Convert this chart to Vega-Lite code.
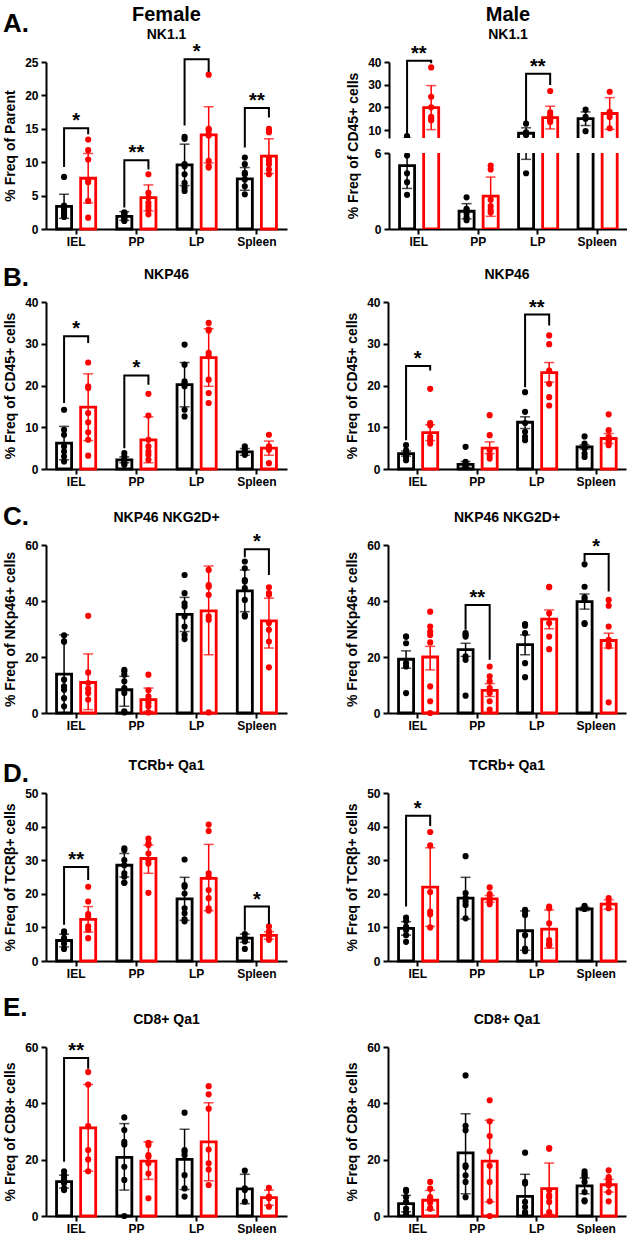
{
"$schema": "https://vega.github.io/schema/vega-lite/v6.json",
"background": "white",
"padding": {"left": 3, "top": 5, "right": 0, "bottom": 0},
"spacing": 11,
"datasets": {
"bars": [
{"panel":"AF","tissue":"IEL","group":"Control","value":3.4,"lo":1.6,"hi":5.2},
{"panel":"AF","tissue":"IEL","group":"Treated","value":7.6,"lo":3.9,"hi":11.3},
{"panel":"AF","tissue":"PP","group":"Control","value":1.9,"lo":1.3,"hi":2.6},
{"panel":"AF","tissue":"PP","group":"Treated","value":4.7,"lo":2.7,"hi":6.6},
{"panel":"AF","tissue":"LP","group":"Control","value":9.6,"lo":6.5,"hi":12.7},
{"panel":"AF","tissue":"LP","group":"Treated","value":14.1,"lo":9.9,"hi":18.3},
{"panel":"AF","tissue":"Spleen","group":"Control","value":7.5,"lo":5.8,"hi":9.2},
{"panel":"AF","tissue":"Spleen","group":"Treated","value":10.9,"lo":8.3,"hi":13.5},
{"panel":"AM","tissue":"IEL","group":"Control","value":5.0,"lo":3.2,"hi":6.3},
{"panel":"AM","tissue":"IEL","group":"Treated","value":19.9,"lo":10.2,"hi":29.6},
{"panel":"AM","tissue":"PP","group":"Control","value":1.4,"lo":0.8,"hi":2.0},
{"panel":"AM","tissue":"PP","group":"Treated","value":2.6,"lo":1.0,"hi":4.1},
{"panel":"AM","tissue":"LP","group":"Control","value":8.6,"lo":5.5,"hi":11.0},
{"panel":"AM","tissue":"LP","group":"Treated","value":15.5,"lo":10.5,"hi":20.5},
{"panel":"AM","tissue":"Spleen","group":"Control","value":15.0,"lo":12.0,"hi":18.0},
{"panel":"AM","tissue":"Spleen","group":"Treated","value":17.3,"lo":10.3,"hi":24.3},
{"panel":"BF","tissue":"IEL","group":"Control","value":6.2,"lo":2.2,"hi":10.2},
{"panel":"BF","tissue":"IEL","group":"Treated","value":14.8,"lo":6.8,"hi":22.8},
{"panel":"BF","tissue":"PP","group":"Control","value":2.2,"lo":1.5,"hi":2.9},
{"panel":"BF","tissue":"PP","group":"Treated","value":7.0,"lo":1.5,"hi":12.5},
{"panel":"BF","tissue":"LP","group":"Control","value":20.2,"lo":14.9,"hi":25.5},
{"panel":"BF","tissue":"LP","group":"Treated","value":26.7,"lo":19.8,"hi":33.6},
{"panel":"BF","tissue":"Spleen","group":"Control","value":4.1,"lo":3.3,"hi":4.9},
{"panel":"BF","tissue":"Spleen","group":"Treated","value":5.0,"lo":3.3,"hi":6.7},
{"panel":"BM","tissue":"IEL","group":"Control","value":3.7,"lo":3.1,"hi":4.3},
{"panel":"BM","tissue":"IEL","group":"Treated","value":8.7,"lo":6.8,"hi":10.6},
{"panel":"BM","tissue":"PP","group":"Control","value":1.1,"lo":0.4,"hi":1.8},
{"panel":"BM","tissue":"PP","group":"Treated","value":5.0,"lo":3.7,"hi":6.5},
{"panel":"BM","tissue":"LP","group":"Control","value":11.2,"lo":9.7,"hi":12.5},
{"panel":"BM","tissue":"LP","group":"Treated","value":23.1,"lo":20.8,"hi":25.5},
{"panel":"BM","tissue":"Spleen","group":"Control","value":5.3,"lo":4.8,"hi":5.8},
{"panel":"BM","tissue":"Spleen","group":"Treated","value":7.3,"lo":6.1,"hi":8.5},
{"panel":"CF","tissue":"IEL","group":"Control","value":13.9,"lo":0,"hi":27.9},
{"panel":"CF","tissue":"IEL","group":"Treated","value":10.9,"lo":1.2,"hi":21.1},
{"panel":"CF","tissue":"PP","group":"Control","value":8.3,"lo":2.4,"hi":13.1},
{"panel":"CF","tissue":"PP","group":"Treated","value":4.8,"lo":0.6,"hi":8.9},
{"panel":"CF","tissue":"LP","group":"Control","value":35.2,"lo":29.1,"hi":41.3},
{"panel":"CF","tissue":"LP","group":"Treated","value":36.5,"lo":20.8,"hi":52.5},
{"panel":"CF","tissue":"Spleen","group":"Control","value":43.6,"lo":36.2,"hi":51.1},
{"panel":"CF","tissue":"Spleen","group":"Treated","value":32.9,"lo":23.2,"hi":41.0},
{"panel":"CM","tissue":"IEL","group":"Control","value":19.2,"lo":16.0,"hi":22.2},
{"panel":"CM","tissue":"IEL","group":"Treated","value":20.0,"lo":15.4,"hi":23.8},
{"panel":"CM","tissue":"PP","group":"Control","value":22.6,"lo":20.2,"hi":24.9},
{"panel":"CM","tissue":"PP","group":"Treated","value":8.1,"lo":5.9,"hi":10.5},
{"panel":"CM","tissue":"LP","group":"Control","value":24.4,"lo":20.8,"hi":27.9},
{"panel":"CM","tissue":"LP","group":"Treated","value":33.5,"lo":30.1,"hi":36.8},
{"panel":"CM","tissue":"Spleen","group":"Control","value":39.8,"lo":37.1,"hi":42.5},
{"panel":"CM","tissue":"Spleen","group":"Treated","value":25.9,"lo":23.2,"hi":28.5},
{"panel":"DF","tissue":"IEL","group":"Control","value":6.1,"lo":4.2,"hi":8.0},
{"panel":"DF","tissue":"IEL","group":"Treated","value":12.4,"lo":8.6,"hi":16.2},
{"panel":"DF","tissue":"PP","group":"Control","value":28.5,"lo":25.0,"hi":32.0},
{"panel":"DF","tissue":"PP","group":"Treated","value":30.5,"lo":26.1,"hi":34.5},
{"panel":"DF","tissue":"LP","group":"Control","value":18.5,"lo":12.1,"hi":24.9},
{"panel":"DF","tissue":"LP","group":"Treated","value":24.6,"lo":15.0,"hi":34.7},
{"panel":"DF","tissue":"Spleen","group":"Control","value":6.8,"lo":5.6,"hi":8.0},
{"panel":"DF","tissue":"Spleen","group":"Treated","value":7.6,"lo":6.5,"hi":8.7},
{"panel":"DM","tissue":"IEL","group":"Control","value":9.7,"lo":7.7,"hi":11.7},
{"panel":"DM","tissue":"IEL","group":"Treated","value":22.0,"lo":10.3,"hi":33.7},
{"panel":"DM","tissue":"PP","group":"Control","value":18.7,"lo":12.5,"hi":24.9},
{"panel":"DM","tissue":"PP","group":"Treated","value":18.5,"lo":17.5,"hi":19.5},
{"panel":"DM","tissue":"LP","group":"Control","value":9.0,"lo":3.2,"hi":14.9},
{"panel":"DM","tissue":"LP","group":"Treated","value":9.5,"lo":3.8,"hi":15.2},
{"panel":"DM","tissue":"Spleen","group":"Control","value":15.5,"lo":15.0,"hi":16.0},
{"panel":"DM","tissue":"Spleen","group":"Treated","value":16.9,"lo":15.4,"hi":18.2},
{"panel":"EF","tissue":"IEL","group":"Control","value":12.2,"lo":9.9,"hi":14.5},
{"panel":"EF","tissue":"IEL","group":"Treated","value":31.3,"lo":15.9,"hi":46.7},
{"panel":"EF","tissue":"PP","group":"Control","value":20.8,"lo":9.2,"hi":32.8},
{"panel":"EF","tissue":"PP","group":"Treated","value":19.5,"lo":13.0,"hi":26.3},
{"panel":"EF","tissue":"LP","group":"Control","value":20.1,"lo":9.4,"hi":30.8},
{"panel":"EF","tissue":"LP","group":"Treated","value":26.3,"lo":12.5,"hi":40.2},
{"panel":"EF","tissue":"Spleen","group":"Control","value":9.6,"lo":4.4,"hi":14.8},
{"panel":"EF","tissue":"Spleen","group":"Treated","value":6.5,"lo":3.8,"hi":9.2},
{"panel":"EM","tissue":"IEL","group":"Control","value":4.4,"lo":1.5,"hi":7.3},
{"panel":"EM","tissue":"IEL","group":"Treated","value":5.6,"lo":2.1,"hi":9.1},
{"panel":"EM","tissue":"PP","group":"Control","value":22.4,"lo":7.9,"hi":36.3},
{"panel":"EM","tissue":"PP","group":"Treated","value":19.5,"lo":5.0,"hi":34.0},
{"panel":"EM","tissue":"LP","group":"Control","value":7.0,"lo":0,"hi":14.8},
{"panel":"EM","tissue":"LP","group":"Treated","value":9.7,"lo":0.6,"hi":18.8},
{"panel":"EM","tissue":"Spleen","group":"Control","value":10.7,"lo":7.9,"hi":13.5},
{"panel":"EM","tissue":"Spleen","group":"Treated","value":11.1,"lo":8.5,"hi":13.0}
],
"points": [
{"panel":"AF","tissue":"IEL","group":"Control","value":7.8},{"panel":"AF","tissue":"IEL","group":"Control","value":3.5},{"panel":"AF","tissue":"IEL","group":"Control","value":3.3},{"panel":"AF","tissue":"IEL","group":"Control","value":3.0},{"panel":"AF","tissue":"IEL","group":"Control","value":2.8},{"panel":"AF","tissue":"IEL","group":"Control","value":2.5},{"panel":"AF","tissue":"IEL","group":"Control","value":2.2},{"panel":"AF","tissue":"IEL","group":"Control","value":1.8},
{"panel":"AF","tissue":"IEL","group":"Treated","value":13.4},{"panel":"AF","tissue":"IEL","group":"Treated","value":11.8},{"panel":"AF","tissue":"IEL","group":"Treated","value":10.4},{"panel":"AF","tissue":"IEL","group":"Treated","value":7.3},{"panel":"AF","tissue":"IEL","group":"Treated","value":7.0},{"panel":"AF","tissue":"IEL","group":"Treated","value":4.2},{"panel":"AF","tissue":"IEL","group":"Treated","value":1.7},
{"panel":"AF","tissue":"PP","group":"Control","value":2.5},{"panel":"AF","tissue":"PP","group":"Control","value":2.4},{"panel":"AF","tissue":"PP","group":"Control","value":2.3},{"panel":"AF","tissue":"PP","group":"Control","value":2.0},{"panel":"AF","tissue":"PP","group":"Control","value":1.8},{"panel":"AF","tissue":"PP","group":"Control","value":1.6},{"panel":"AF","tissue":"PP","group":"Control","value":1.4},{"panel":"AF","tissue":"PP","group":"Control","value":1.2},
{"panel":"AF","tissue":"PP","group":"Treated","value":8.2},{"panel":"AF","tissue":"PP","group":"Treated","value":5.4},{"panel":"AF","tissue":"PP","group":"Treated","value":4.7},{"panel":"AF","tissue":"PP","group":"Treated","value":3.9},{"panel":"AF","tissue":"PP","group":"Treated","value":3.4},{"panel":"AF","tissue":"PP","group":"Treated","value":2.9},{"panel":"AF","tissue":"PP","group":"Treated","value":2.2},
{"panel":"AF","tissue":"LP","group":"Control","value":13.8},{"panel":"AF","tissue":"LP","group":"Control","value":13.5},{"panel":"AF","tissue":"LP","group":"Control","value":9.7},{"panel":"AF","tissue":"LP","group":"Control","value":9.4},{"panel":"AF","tissue":"LP","group":"Control","value":8.2},{"panel":"AF","tissue":"LP","group":"Control","value":6.9},{"panel":"AF","tissue":"LP","group":"Control","value":6.2},{"panel":"AF","tissue":"LP","group":"Control","value":5.7},
{"panel":"AF","tissue":"LP","group":"Treated","value":23.1},{"panel":"AF","tissue":"LP","group":"Treated","value":15.0},{"panel":"AF","tissue":"LP","group":"Treated","value":14.8},{"panel":"AF","tissue":"LP","group":"Treated","value":14.2},{"panel":"AF","tissue":"LP","group":"Treated","value":14.0},{"panel":"AF","tissue":"LP","group":"Treated","value":10.2},{"panel":"AF","tissue":"LP","group":"Treated","value":9.4},{"panel":"AF","tissue":"LP","group":"Treated","value":9.2},
{"panel":"AF","tissue":"Spleen","group":"Control","value":10.7},{"panel":"AF","tissue":"Spleen","group":"Control","value":9.7},{"panel":"AF","tissue":"Spleen","group":"Control","value":8.4},{"panel":"AF","tissue":"Spleen","group":"Control","value":8.2},{"panel":"AF","tissue":"Spleen","group":"Control","value":7.4},{"panel":"AF","tissue":"Spleen","group":"Control","value":6.4},{"panel":"AF","tissue":"Spleen","group":"Control","value":5.2},
{"panel":"AF","tissue":"Spleen","group":"Treated","value":15.0},{"panel":"AF","tissue":"Spleen","group":"Treated","value":14.7},{"panel":"AF","tissue":"Spleen","group":"Treated","value":14.5},{"panel":"AF","tissue":"Spleen","group":"Treated","value":10.7},{"panel":"AF","tissue":"Spleen","group":"Treated","value":10.2},{"panel":"AF","tissue":"Spleen","group":"Treated","value":9.7},{"panel":"AF","tissue":"Spleen","group":"Treated","value":8.9},{"panel":"AF","tissue":"Spleen","group":"Treated","value":8.2},
{"panel":"AM","tissue":"IEL","group":"Control","value":7.2},{"panel":"AM","tissue":"IEL","group":"Control","value":7.2},{"panel":"AM","tissue":"IEL","group":"Control","value":5.8},{"panel":"AM","tissue":"IEL","group":"Control","value":4.4},{"panel":"AM","tissue":"IEL","group":"Control","value":3.7},{"panel":"AM","tissue":"IEL","group":"Control","value":2.7},
{"panel":"AM","tissue":"IEL","group":"Treated","value":37.6},{"panel":"AM","tissue":"IEL","group":"Treated","value":24.7},{"panel":"AM","tissue":"IEL","group":"Treated","value":20.0},{"panel":"AM","tissue":"IEL","group":"Treated","value":15.8},{"panel":"AM","tissue":"IEL","group":"Treated","value":15.0},{"panel":"AM","tissue":"IEL","group":"Treated","value":14.3},
{"panel":"AM","tissue":"PP","group":"Control","value":2.5},{"panel":"AM","tissue":"PP","group":"Control","value":1.6},{"panel":"AM","tissue":"PP","group":"Control","value":1.5},{"panel":"AM","tissue":"PP","group":"Control","value":1.2},{"panel":"AM","tissue":"PP","group":"Control","value":0.9},{"panel":"AM","tissue":"PP","group":"Control","value":0.7},
{"panel":"AM","tissue":"PP","group":"Treated","value":5.0},{"panel":"AM","tissue":"PP","group":"Treated","value":4.7},{"panel":"AM","tissue":"PP","group":"Treated","value":2.3},{"panel":"AM","tissue":"PP","group":"Treated","value":1.8},{"panel":"AM","tissue":"PP","group":"Treated","value":1.5},{"panel":"AM","tissue":"PP","group":"Treated","value":1.3},
{"panel":"AM","tissue":"LP","group":"Control","value":12.8},{"panel":"AM","tissue":"LP","group":"Control","value":9.0},{"panel":"AM","tissue":"LP","group":"Control","value":8.6},{"panel":"AM","tissue":"LP","group":"Control","value":8.2},{"panel":"AM","tissue":"LP","group":"Control","value":7.8},{"panel":"AM","tissue":"LP","group":"Control","value":4.4},
{"panel":"AM","tissue":"LP","group":"Treated","value":27.2},{"panel":"AM","tissue":"LP","group":"Treated","value":17.8},{"panel":"AM","tissue":"LP","group":"Treated","value":16.5},{"panel":"AM","tissue":"LP","group":"Treated","value":15.8},{"panel":"AM","tissue":"LP","group":"Treated","value":15.0},{"panel":"AM","tissue":"LP","group":"Treated","value":14.3},{"panel":"AM","tissue":"LP","group":"Treated","value":13.6},
{"panel":"AM","tissue":"Spleen","group":"Control","value":19.0},{"panel":"AM","tissue":"Spleen","group":"Control","value":15.8},{"panel":"AM","tissue":"Spleen","group":"Control","value":15.0},{"panel":"AM","tissue":"Spleen","group":"Control","value":9.5},
{"panel":"AM","tissue":"Spleen","group":"Treated","value":26.9},{"panel":"AM","tissue":"Spleen","group":"Treated","value":18.0},{"panel":"AM","tissue":"Spleen","group":"Treated","value":15.8},{"panel":"AM","tissue":"Spleen","group":"Treated","value":10.8},
{"panel":"BF","tissue":"IEL","group":"Control","value":14.2},{"panel":"BF","tissue":"IEL","group":"Control","value":9.4},{"panel":"BF","tissue":"IEL","group":"Control","value":8.2},{"panel":"BF","tissue":"IEL","group":"Control","value":5.4},{"panel":"BF","tissue":"IEL","group":"Control","value":4.2},{"panel":"BF","tissue":"IEL","group":"Control","value":3.0},{"panel":"BF","tissue":"IEL","group":"Control","value":1.8},
{"panel":"BF","tissue":"IEL","group":"Treated","value":25.5},{"panel":"BF","tissue":"IEL","group":"Treated","value":19.8},{"panel":"BF","tissue":"IEL","group":"Treated","value":19.4},{"panel":"BF","tissue":"IEL","group":"Treated","value":13.4},{"panel":"BF","tissue":"IEL","group":"Treated","value":11.2},{"panel":"BF","tissue":"IEL","group":"Treated","value":8.8},{"panel":"BF","tissue":"IEL","group":"Treated","value":7.0},{"panel":"BF","tissue":"IEL","group":"Treated","value":3.2},
{"panel":"BF","tissue":"PP","group":"Control","value":3.8},{"panel":"BF","tissue":"PP","group":"Control","value":3.0},{"panel":"BF","tissue":"PP","group":"Control","value":2.2},{"panel":"BF","tissue":"PP","group":"Control","value":1.6},{"panel":"BF","tissue":"PP","group":"Control","value":1.3},{"panel":"BF","tissue":"PP","group":"Control","value":1.0},
{"panel":"BF","tissue":"PP","group":"Treated","value":18.0},{"panel":"BF","tissue":"PP","group":"Treated","value":12.8},{"panel":"BF","tissue":"PP","group":"Treated","value":7.0},{"panel":"BF","tissue":"PP","group":"Treated","value":5.4},{"panel":"BF","tissue":"PP","group":"Treated","value":4.2},{"panel":"BF","tissue":"PP","group":"Treated","value":3.4},{"panel":"BF","tissue":"PP","group":"Treated","value":2.2},
{"panel":"BF","tissue":"LP","group":"Control","value":29.8},{"panel":"BF","tissue":"LP","group":"Control","value":25.0},{"panel":"BF","tissue":"LP","group":"Control","value":21.0},{"panel":"BF","tissue":"LP","group":"Control","value":20.6},{"panel":"BF","tissue":"LP","group":"Control","value":19.8},{"panel":"BF","tissue":"LP","group":"Control","value":14.2},{"panel":"BF","tissue":"LP","group":"Control","value":12.6},
{"panel":"BF","tissue":"LP","group":"Treated","value":35.0},{"panel":"BF","tissue":"LP","group":"Treated","value":33.4},{"panel":"BF","tissue":"LP","group":"Treated","value":33.2},{"panel":"BF","tissue":"LP","group":"Treated","value":27.8},{"panel":"BF","tissue":"LP","group":"Treated","value":27.0},{"panel":"BF","tissue":"LP","group":"Treated","value":21.4},{"panel":"BF","tissue":"LP","group":"Treated","value":18.2},{"panel":"BF","tissue":"LP","group":"Treated","value":15.8},
{"panel":"BF","tissue":"Spleen","group":"Control","value":5.4},{"panel":"BF","tissue":"Spleen","group":"Control","value":4.6},{"panel":"BF","tissue":"Spleen","group":"Control","value":3.8},{"panel":"BF","tissue":"Spleen","group":"Control","value":3.4},
{"panel":"BF","tissue":"Spleen","group":"Treated","value":8.2},{"panel":"BF","tissue":"Spleen","group":"Treated","value":5.4},{"panel":"BF","tissue":"Spleen","group":"Treated","value":5.0},{"panel":"BF","tissue":"Spleen","group":"Treated","value":4.6},{"panel":"BF","tissue":"Spleen","group":"Treated","value":1.4},
{"panel":"BM","tissue":"IEL","group":"Control","value":5.7},{"panel":"BM","tissue":"IEL","group":"Control","value":4.5},{"panel":"BM","tissue":"IEL","group":"Control","value":3.7},{"panel":"BM","tissue":"IEL","group":"Control","value":2.9},{"panel":"BM","tissue":"IEL","group":"Control","value":2.1},
{"panel":"BM","tissue":"IEL","group":"Treated","value":19.2},{"panel":"BM","tissue":"IEL","group":"Treated","value":11.0},{"panel":"BM","tissue":"IEL","group":"Treated","value":10.5},{"panel":"BM","tissue":"IEL","group":"Treated","value":7.7},{"panel":"BM","tissue":"IEL","group":"Treated","value":6.9},{"panel":"BM","tissue":"IEL","group":"Treated","value":6.1},
{"panel":"BM","tissue":"PP","group":"Control","value":5.3},{"panel":"BM","tissue":"PP","group":"Control","value":1.7},{"panel":"BM","tissue":"PP","group":"Control","value":1.3},{"panel":"BM","tissue":"PP","group":"Control","value":0.9},{"panel":"BM","tissue":"PP","group":"Control","value":0.5},
{"panel":"BM","tissue":"PP","group":"Treated","value":12.9},{"panel":"BM","tissue":"PP","group":"Treated","value":8.1},{"panel":"BM","tissue":"PP","group":"Treated","value":4.5},{"panel":"BM","tissue":"PP","group":"Treated","value":3.3},{"panel":"BM","tissue":"PP","group":"Treated","value":2.5},
{"panel":"BM","tissue":"LP","group":"Control","value":18.4},{"panel":"BM","tissue":"LP","group":"Control","value":13.7},{"panel":"BM","tissue":"LP","group":"Control","value":11.0},{"panel":"BM","tissue":"LP","group":"Control","value":8.9},{"panel":"BM","tissue":"LP","group":"Control","value":7.7},{"panel":"BM","tissue":"LP","group":"Control","value":6.9},
{"panel":"BM","tissue":"LP","group":"Treated","value":32.0},{"panel":"BM","tissue":"LP","group":"Treated","value":29.9},{"panel":"BM","tissue":"LP","group":"Treated","value":23.6},{"panel":"BM","tissue":"LP","group":"Treated","value":20.4},{"panel":"BM","tissue":"LP","group":"Treated","value":17.2},{"panel":"BM","tissue":"LP","group":"Treated","value":15.2},
{"panel":"BM","tissue":"Spleen","group":"Control","value":7.8},{"panel":"BM","tissue":"Spleen","group":"Control","value":6.1},{"panel":"BM","tissue":"Spleen","group":"Control","value":4.9},{"panel":"BM","tissue":"Spleen","group":"Control","value":3.7},{"panel":"BM","tissue":"Spleen","group":"Control","value":2.9},
{"panel":"BM","tissue":"Spleen","group":"Treated","value":13.1},{"panel":"BM","tissue":"Spleen","group":"Treated","value":9.3},{"panel":"BM","tissue":"Spleen","group":"Treated","value":7.7},{"panel":"BM","tissue":"Spleen","group":"Treated","value":6.9},{"panel":"BM","tissue":"Spleen","group":"Treated","value":6.5},{"panel":"BM","tissue":"Spleen","group":"Treated","value":5.7},
{"panel":"CF","tissue":"IEL","group":"Control","value":27.7},{"panel":"CF","tissue":"IEL","group":"Control","value":25.5},{"panel":"CF","tissue":"IEL","group":"Control","value":25.5},{"panel":"CF","tissue":"IEL","group":"Control","value":11.9},{"panel":"CF","tissue":"IEL","group":"Control","value":9.5},{"panel":"CF","tissue":"IEL","group":"Control","value":8.3},{"panel":"CF","tissue":"IEL","group":"Control","value":5.3},{"panel":"CF","tissue":"IEL","group":"Control","value":2.4},
{"panel":"CF","tissue":"IEL","group":"Treated","value":34.7},{"panel":"CF","tissue":"IEL","group":"Treated","value":14.5},{"panel":"CF","tissue":"IEL","group":"Treated","value":10.7},{"panel":"CF","tissue":"IEL","group":"Treated","value":8.6},{"panel":"CF","tissue":"IEL","group":"Treated","value":7.1},{"panel":"CF","tissue":"IEL","group":"Treated","value":4.8},
{"panel":"CF","tissue":"PP","group":"Control","value":15.4},{"panel":"CF","tissue":"PP","group":"Control","value":14.9},{"panel":"CF","tissue":"PP","group":"Control","value":13.7},{"panel":"CF","tissue":"PP","group":"Control","value":11.3},{"panel":"CF","tissue":"PP","group":"Control","value":8.9},{"panel":"CF","tissue":"PP","group":"Control","value":7.1},{"panel":"CF","tissue":"PP","group":"Control","value":0.6},{"panel":"CF","tissue":"PP","group":"Control","value":0.2},
{"panel":"CF","tissue":"PP","group":"Treated","value":13.7},{"panel":"CF","tissue":"PP","group":"Treated","value":8.1},{"panel":"CF","tissue":"PP","group":"Treated","value":5.9},{"panel":"CF","tissue":"PP","group":"Treated","value":4.8},{"panel":"CF","tissue":"PP","group":"Treated","value":3.6},{"panel":"CF","tissue":"PP","group":"Treated","value":2.4},{"panel":"CF","tissue":"PP","group":"Treated","value":0.2},
{"panel":"CF","tissue":"LP","group":"Control","value":49.3},{"panel":"CF","tissue":"LP","group":"Control","value":42.8},{"panel":"CF","tissue":"LP","group":"Control","value":39.2},{"panel":"CF","tissue":"LP","group":"Control","value":38.0},{"panel":"CF","tissue":"LP","group":"Control","value":34.5},{"panel":"CF","tissue":"LP","group":"Control","value":30.9},{"panel":"CF","tissue":"LP","group":"Control","value":27.9},{"panel":"CF","tissue":"LP","group":"Control","value":26.4},
{"panel":"CF","tissue":"LP","group":"Treated","value":51.1},{"panel":"CF","tissue":"LP","group":"Treated","value":45.7},{"panel":"CF","tissue":"LP","group":"Treated","value":45.1},{"panel":"CF","tissue":"LP","group":"Treated","value":42.2},{"panel":"CF","tissue":"LP","group":"Treated","value":34.5},{"panel":"CF","tissue":"LP","group":"Treated","value":33.3},{"panel":"CF","tissue":"LP","group":"Treated","value":0.2},
{"panel":"CF","tissue":"Spleen","group":"Control","value":54.1},{"panel":"CF","tissue":"Spleen","group":"Control","value":51.7},{"panel":"CF","tissue":"Spleen","group":"Control","value":47.5},{"panel":"CF","tissue":"Spleen","group":"Control","value":47.0},{"panel":"CF","tissue":"Spleen","group":"Control","value":44.6},{"panel":"CF","tissue":"Spleen","group":"Control","value":40.4},{"panel":"CF","tissue":"Spleen","group":"Control","value":35.0},{"panel":"CF","tissue":"Spleen","group":"Control","value":34.5},
{"panel":"CF","tissue":"Spleen","group":"Treated","value":44.9},{"panel":"CF","tissue":"Spleen","group":"Treated","value":42.8},{"panel":"CF","tissue":"Spleen","group":"Treated","value":42.2},{"panel":"CF","tissue":"Spleen","group":"Treated","value":32.1},{"panel":"CF","tissue":"Spleen","group":"Treated","value":29.7},{"panel":"CF","tissue":"Spleen","group":"Treated","value":25.5},{"panel":"CF","tissue":"Spleen","group":"Treated","value":16.3},
{"panel":"CM","tissue":"IEL","group":"Control","value":27.3},{"panel":"CM","tissue":"IEL","group":"Control","value":27.3},{"panel":"CM","tissue":"IEL","group":"Control","value":24.9},{"panel":"CM","tissue":"IEL","group":"Control","value":17.8},{"panel":"CM","tissue":"IEL","group":"Control","value":16.6},{"panel":"CM","tissue":"IEL","group":"Control","value":7.1},
{"panel":"CM","tissue":"IEL","group":"Treated","value":36.2},{"panel":"CM","tissue":"IEL","group":"Treated","value":30.9},{"panel":"CM","tissue":"IEL","group":"Treated","value":29.1},{"panel":"CM","tissue":"IEL","group":"Treated","value":27.9},{"panel":"CM","tissue":"IEL","group":"Treated","value":25.2},{"panel":"CM","tissue":"IEL","group":"Treated","value":9.5},{"panel":"CM","tissue":"IEL","group":"Treated","value":4.2},{"panel":"CM","tissue":"IEL","group":"Treated","value":0.0},
{"panel":"CM","tissue":"PP","group":"Control","value":28.5},{"panel":"CM","tissue":"PP","group":"Control","value":27.9},{"panel":"CM","tissue":"PP","group":"Control","value":27.3},{"panel":"CM","tissue":"PP","group":"Control","value":20.2},{"panel":"CM","tissue":"PP","group":"Control","value":19.0},{"panel":"CM","tissue":"PP","group":"Control","value":6.2},
{"panel":"CM","tissue":"PP","group":"Treated","value":16.6},{"panel":"CM","tissue":"PP","group":"Treated","value":13.1},{"panel":"CM","tissue":"PP","group":"Treated","value":11.3},{"panel":"CM","tissue":"PP","group":"Treated","value":8.9},{"panel":"CM","tissue":"PP","group":"Treated","value":7.1},{"panel":"CM","tissue":"PP","group":"Treated","value":4.2},{"panel":"CM","tissue":"PP","group":"Treated","value":1.2},
{"panel":"CM","tissue":"LP","group":"Control","value":31.8},{"panel":"CM","tissue":"LP","group":"Control","value":31.2},{"panel":"CM","tissue":"LP","group":"Control","value":28.5},{"panel":"CM","tissue":"LP","group":"Control","value":17.8},{"panel":"CM","tissue":"LP","group":"Control","value":12.8},
{"panel":"CM","tissue":"LP","group":"Treated","value":45.1},{"panel":"CM","tissue":"LP","group":"Treated","value":44.9},{"panel":"CM","tissue":"LP","group":"Treated","value":35.6},{"panel":"CM","tissue":"LP","group":"Treated","value":32.1},{"panel":"CM","tissue":"LP","group":"Treated","value":27.3},{"panel":"CM","tissue":"LP","group":"Treated","value":22.8},
{"panel":"CM","tissue":"Spleen","group":"Control","value":53.1},{"panel":"CM","tissue":"Spleen","group":"Control","value":45.1},{"panel":"CM","tissue":"Spleen","group":"Control","value":41.3},{"panel":"CM","tissue":"Spleen","group":"Control","value":40.6},{"panel":"CM","tissue":"Spleen","group":"Control","value":32.1},{"panel":"CM","tissue":"Spleen","group":"Control","value":31.8},
{"panel":"CM","tissue":"Spleen","group":"Treated","value":40.4},{"panel":"CM","tissue":"Spleen","group":"Treated","value":38.3},{"panel":"CM","tissue":"Spleen","group":"Treated","value":30.9},{"panel":"CM","tissue":"Spleen","group":"Treated","value":26.1},{"panel":"CM","tissue":"Spleen","group":"Treated","value":24.4},{"panel":"CM","tissue":"Spleen","group":"Treated","value":23.8},{"panel":"CM","tissue":"Spleen","group":"Treated","value":3.8},
{"panel":"DF","tissue":"IEL","group":"Control","value":8.8},{"panel":"DF","tissue":"IEL","group":"Control","value":8.3},{"panel":"DF","tissue":"IEL","group":"Control","value":6.8},{"panel":"DF","tissue":"IEL","group":"Control","value":5.8},{"panel":"DF","tissue":"IEL","group":"Control","value":5.1},{"panel":"DF","tissue":"IEL","group":"Control","value":3.6},
{"panel":"DF","tissue":"IEL","group":"Treated","value":22.1},{"panel":"DF","tissue":"IEL","group":"Treated","value":17.7},{"panel":"DF","tissue":"IEL","group":"Treated","value":14.0},{"panel":"DF","tissue":"IEL","group":"Treated","value":13.2},{"panel":"DF","tissue":"IEL","group":"Treated","value":10.3},{"panel":"DF","tissue":"IEL","group":"Treated","value":9.3},{"panel":"DF","tissue":"IEL","group":"Treated","value":6.8},
{"panel":"DF","tissue":"PP","group":"Control","value":33.5},{"panel":"DF","tissue":"PP","group":"Control","value":33.0},{"panel":"DF","tissue":"PP","group":"Control","value":30.0},{"panel":"DF","tissue":"PP","group":"Control","value":28.5},{"panel":"DF","tissue":"PP","group":"Control","value":26.1},{"panel":"DF","tissue":"PP","group":"Control","value":25.1},{"panel":"DF","tissue":"PP","group":"Control","value":23.3},{"panel":"DF","tissue":"PP","group":"Control","value":23.3},
{"panel":"DF","tissue":"PP","group":"Treated","value":36.4},{"panel":"DF","tissue":"PP","group":"Treated","value":35.0},{"panel":"DF","tissue":"PP","group":"Treated","value":34.5},{"panel":"DF","tissue":"PP","group":"Treated","value":32.0},{"panel":"DF","tissue":"PP","group":"Treated","value":30.0},{"panel":"DF","tissue":"PP","group":"Treated","value":29.0},{"panel":"DF","tissue":"PP","group":"Treated","value":20.3},
{"panel":"DF","tissue":"LP","group":"Control","value":30.2},{"panel":"DF","tissue":"LP","group":"Control","value":22.6},{"panel":"DF","tissue":"LP","group":"Control","value":22.1},{"panel":"DF","tissue":"LP","group":"Control","value":20.1},{"panel":"DF","tissue":"LP","group":"Control","value":15.7},{"panel":"DF","tissue":"LP","group":"Control","value":14.2},{"panel":"DF","tissue":"LP","group":"Control","value":12.4},{"panel":"DF","tissue":"LP","group":"Control","value":11.8},
{"panel":"DF","tissue":"LP","group":"Treated","value":40.6},{"panel":"DF","tissue":"LP","group":"Treated","value":38.7},{"panel":"DF","tissue":"LP","group":"Treated","value":26.1},{"panel":"DF","tissue":"LP","group":"Treated","value":25.1},{"panel":"DF","tissue":"LP","group":"Treated","value":21.1},{"panel":"DF","tissue":"LP","group":"Treated","value":18.7},{"panel":"DF","tissue":"LP","group":"Treated","value":15.7},{"panel":"DF","tissue":"LP","group":"Treated","value":15.0},
{"panel":"DF","tissue":"Spleen","group":"Control","value":8.0},{"panel":"DF","tissue":"Spleen","group":"Control","value":6.8},{"panel":"DF","tissue":"Spleen","group":"Control","value":6.3},{"panel":"DF","tissue":"Spleen","group":"Control","value":5.8},{"panel":"DF","tissue":"Spleen","group":"Control","value":3.6},
{"panel":"DF","tissue":"Spleen","group":"Treated","value":10.3},{"panel":"DF","tissue":"Spleen","group":"Treated","value":8.8},{"panel":"DF","tissue":"Spleen","group":"Treated","value":8.3},{"panel":"DF","tissue":"Spleen","group":"Treated","value":7.3},{"panel":"DF","tissue":"Spleen","group":"Treated","value":6.3},
{"panel":"DM","tissue":"IEL","group":"Control","value":12.9},{"panel":"DM","tissue":"IEL","group":"Control","value":11.9},{"panel":"DM","tissue":"IEL","group":"Control","value":10.2},{"panel":"DM","tissue":"IEL","group":"Control","value":9.2},{"panel":"DM","tissue":"IEL","group":"Control","value":7.7},{"panel":"DM","tissue":"IEL","group":"Control","value":5.7},
{"panel":"DM","tissue":"IEL","group":"Treated","value":38.4},{"panel":"DM","tissue":"IEL","group":"Treated","value":34.4},{"panel":"DM","tissue":"IEL","group":"Treated","value":20.5},{"panel":"DM","tissue":"IEL","group":"Treated","value":14.7},{"panel":"DM","tissue":"IEL","group":"Treated","value":13.9},{"panel":"DM","tissue":"IEL","group":"Treated","value":10.0},
{"panel":"DM","tissue":"PP","group":"Control","value":31.2},{"panel":"DM","tissue":"PP","group":"Control","value":20.2},{"panel":"DM","tissue":"PP","group":"Control","value":18.7},{"panel":"DM","tissue":"PP","group":"Control","value":17.7},{"panel":"DM","tissue":"PP","group":"Control","value":16.7},{"panel":"DM","tissue":"PP","group":"Control","value":12.7},
{"panel":"DM","tissue":"PP","group":"Treated","value":21.9},{"panel":"DM","tissue":"PP","group":"Treated","value":19.9},{"panel":"DM","tissue":"PP","group":"Treated","value":18.7},{"panel":"DM","tissue":"PP","group":"Treated","value":17.7},{"panel":"DM","tissue":"PP","group":"Treated","value":16.9},
{"panel":"DM","tissue":"LP","group":"Control","value":15.2},{"panel":"DM","tissue":"LP","group":"Control","value":14.7},{"panel":"DM","tissue":"LP","group":"Control","value":13.7},{"panel":"DM","tissue":"LP","group":"Control","value":7.7},{"panel":"DM","tissue":"LP","group":"Control","value":3.7},{"panel":"DM","tissue":"LP","group":"Control","value":2.9},
{"panel":"DM","tissue":"LP","group":"Treated","value":16.2},{"panel":"DM","tissue":"LP","group":"Treated","value":15.7},{"panel":"DM","tissue":"LP","group":"Treated","value":11.2},{"panel":"DM","tissue":"LP","group":"Treated","value":6.2},{"panel":"DM","tissue":"LP","group":"Treated","value":5.2},{"panel":"DM","tissue":"LP","group":"Treated","value":4.9},{"panel":"DM","tissue":"LP","group":"Treated","value":4.7},
{"panel":"DM","tissue":"Spleen","group":"Control","value":16.4},{"panel":"DM","tissue":"Spleen","group":"Control","value":16.0},{"panel":"DM","tissue":"Spleen","group":"Control","value":15.7},{"panel":"DM","tissue":"Spleen","group":"Control","value":15.5},
{"panel":"DM","tissue":"Spleen","group":"Treated","value":18.7},{"panel":"DM","tissue":"Spleen","group":"Treated","value":17.2},{"panel":"DM","tissue":"Spleen","group":"Treated","value":15.7},
{"panel":"EF","tissue":"IEL","group":"Control","value":15.9},{"panel":"EF","tissue":"IEL","group":"Control","value":14.5},{"panel":"EF","tissue":"IEL","group":"Control","value":13.3},{"panel":"EF","tissue":"IEL","group":"Control","value":12.8},{"panel":"EF","tissue":"IEL","group":"Control","value":11.6},{"panel":"EF","tissue":"IEL","group":"Control","value":9.8},{"panel":"EF","tissue":"IEL","group":"Control","value":9.2},
{"panel":"EF","tissue":"IEL","group":"Treated","value":51.1},{"panel":"EF","tissue":"IEL","group":"Treated","value":46.7},{"panel":"EF","tissue":"IEL","group":"Treated","value":31.9},{"panel":"EF","tissue":"IEL","group":"Treated","value":23.4},{"panel":"EF","tissue":"IEL","group":"Treated","value":20.1},{"panel":"EF","tissue":"IEL","group":"Treated","value":15.9},
{"panel":"EF","tissue":"PP","group":"Control","value":35.0},{"panel":"EF","tissue":"PP","group":"Control","value":30.5},{"panel":"EF","tissue":"PP","group":"Control","value":26.3},{"panel":"EF","tissue":"PP","group":"Control","value":25.4},{"panel":"EF","tissue":"PP","group":"Control","value":17.5},{"panel":"EF","tissue":"PP","group":"Control","value":12.8},{"panel":"EF","tissue":"PP","group":"Control","value":0.0},
{"panel":"EF","tissue":"PP","group":"Treated","value":26.0},{"panel":"EF","tissue":"PP","group":"Treated","value":25.2},{"panel":"EF","tissue":"PP","group":"Treated","value":21.6},{"panel":"EF","tissue":"PP","group":"Treated","value":21.0},{"panel":"EF","tissue":"PP","group":"Treated","value":18.7},{"panel":"EF","tissue":"PP","group":"Treated","value":15.1},{"panel":"EF","tissue":"PP","group":"Treated","value":6.3},
{"panel":"EF","tissue":"LP","group":"Control","value":36.7},{"panel":"EF","tissue":"LP","group":"Control","value":23.4},{"panel":"EF","tissue":"LP","group":"Control","value":22.8},{"panel":"EF","tissue":"LP","group":"Control","value":21.6},{"panel":"EF","tissue":"LP","group":"Control","value":14.5},{"panel":"EF","tissue":"LP","group":"Control","value":9.8},{"panel":"EF","tissue":"LP","group":"Control","value":6.9},
{"panel":"EF","tissue":"LP","group":"Treated","value":46.1},{"panel":"EF","tissue":"LP","group":"Treated","value":43.2},{"panel":"EF","tissue":"LP","group":"Treated","value":38.1},{"panel":"EF","tissue":"LP","group":"Treated","value":23.6},{"panel":"EF","tissue":"LP","group":"Treated","value":18.7},{"panel":"EF","tissue":"LP","group":"Treated","value":16.5},{"panel":"EF","tissue":"LP","group":"Treated","value":11.0},
{"panel":"EF","tissue":"Spleen","group":"Control","value":16.1},{"panel":"EF","tissue":"Spleen","group":"Control","value":9.8},{"panel":"EF","tissue":"Spleen","group":"Control","value":9.2},{"panel":"EF","tissue":"Spleen","group":"Control","value":5.1},
{"panel":"EF","tissue":"Spleen","group":"Treated","value":10.0},{"panel":"EF","tissue":"Spleen","group":"Treated","value":6.9},{"panel":"EF","tissue":"Spleen","group":"Treated","value":6.3},{"panel":"EF","tissue":"Spleen","group":"Treated","value":3.3},
{"panel":"EM","tissue":"IEL","group":"Control","value":9.3},{"panel":"EM","tissue":"IEL","group":"Control","value":8.8},{"panel":"EM","tissue":"IEL","group":"Control","value":6.7},{"panel":"EM","tissue":"IEL","group":"Control","value":5.0},{"panel":"EM","tissue":"IEL","group":"Control","value":2.6},{"panel":"EM","tissue":"IEL","group":"Control","value":1.2},{"panel":"EM","tissue":"IEL","group":"Control","value":0.8},
{"panel":"EM","tissue":"IEL","group":"Treated","value":12.1},{"panel":"EM","tissue":"IEL","group":"Treated","value":9.7},{"panel":"EM","tissue":"IEL","group":"Treated","value":6.7},{"panel":"EM","tissue":"IEL","group":"Treated","value":5.9},{"panel":"EM","tissue":"IEL","group":"Treated","value":4.7},{"panel":"EM","tissue":"IEL","group":"Treated","value":2.8},{"panel":"EM","tissue":"IEL","group":"Treated","value":2.6},
{"panel":"EM","tissue":"PP","group":"Control","value":49.9},{"panel":"EM","tissue":"PP","group":"Control","value":32.0},{"panel":"EM","tissue":"PP","group":"Control","value":30.4},{"panel":"EM","tissue":"PP","group":"Control","value":18.0},{"panel":"EM","tissue":"PP","group":"Control","value":17.4},{"panel":"EM","tissue":"PP","group":"Control","value":14.4},{"panel":"EM","tissue":"PP","group":"Control","value":12.1},{"panel":"EM","tissue":"PP","group":"Control","value":6.7},
{"panel":"EM","tissue":"PP","group":"Treated","value":41.1},{"panel":"EM","tissue":"PP","group":"Treated","value":33.6},{"panel":"EM","tissue":"PP","group":"Treated","value":28.4},{"panel":"EM","tissue":"PP","group":"Treated","value":23.0},{"panel":"EM","tissue":"PP","group":"Treated","value":17.8},{"panel":"EM","tissue":"PP","group":"Treated","value":12.1},{"panel":"EM","tissue":"PP","group":"Treated","value":5.2},{"panel":"EM","tissue":"PP","group":"Treated","value":0.0},
{"panel":"EM","tissue":"LP","group":"Control","value":22.5},{"panel":"EM","tissue":"LP","group":"Control","value":12.1},{"panel":"EM","tissue":"LP","group":"Control","value":11.5},{"panel":"EM","tissue":"LP","group":"Control","value":5.0},{"panel":"EM","tissue":"LP","group":"Control","value":3.2},{"panel":"EM","tissue":"LP","group":"Control","value":1.4},{"panel":"EM","tissue":"LP","group":"Control","value":0.8},
{"panel":"EM","tissue":"LP","group":"Treated","value":24.1},{"panel":"EM","tissue":"LP","group":"Treated","value":23.9},{"panel":"EM","tissue":"LP","group":"Treated","value":9.1},{"panel":"EM","tissue":"LP","group":"Treated","value":7.3},{"panel":"EM","tissue":"LP","group":"Treated","value":6.7},{"panel":"EM","tissue":"LP","group":"Treated","value":5.0},{"panel":"EM","tissue":"LP","group":"Treated","value":1.4},
{"panel":"EM","tissue":"Spleen","group":"Control","value":15.9},{"panel":"EM","tissue":"Spleen","group":"Control","value":15.0},{"panel":"EM","tissue":"Spleen","group":"Control","value":14.4},{"panel":"EM","tissue":"Spleen","group":"Control","value":13.8},{"panel":"EM","tissue":"Spleen","group":"Control","value":12.1},{"panel":"EM","tissue":"Spleen","group":"Control","value":8.5},{"panel":"EM","tissue":"Spleen","group":"Control","value":5.6},{"panel":"EM","tissue":"Spleen","group":"Control","value":5.2},
{"panel":"EM","tissue":"Spleen","group":"Treated","value":16.2},{"panel":"EM","tissue":"Spleen","group":"Treated","value":13.8},{"panel":"EM","tissue":"Spleen","group":"Treated","value":13.3},{"panel":"EM","tissue":"Spleen","group":"Treated","value":12.3},{"panel":"EM","tissue":"Spleen","group":"Treated","value":11.5},{"panel":"EM","tissue":"Spleen","group":"Treated","value":10.9},{"panel":"EM","tissue":"Spleen","group":"Treated","value":8.5},{"panel":"EM","tissue":"Spleen","group":"Treated","value":5.2}
],
"brackets": [
{"panel":"AF","tissue":"IEL","group":"Control","value":9.3,"ord":1},{"panel":"AF","tissue":"IEL","group":"Control","value":15.1,"ord":2},{"panel":"AF","tissue":"IEL","group":"Treated","value":15.1,"ord":3},{"panel":"AF","tissue":"IEL","group":"Treated","value":14.2,"ord":4},
{"panel":"AF","tissue":"PP","group":"Control","value":3.2,"ord":1},{"panel":"AF","tissue":"PP","group":"Control","value":10.3,"ord":2},{"panel":"AF","tissue":"PP","group":"Treated","value":10.3,"ord":3},{"panel":"AF","tissue":"PP","group":"Treated","value":8.9,"ord":4},
{"panel":"AF","tissue":"LP","group":"Control","value":15.5,"ord":1},{"panel":"AF","tissue":"LP","group":"Control","value":25.4,"ord":2},{"panel":"AF","tissue":"LP","group":"Treated","value":25.4,"ord":3},{"panel":"AF","tissue":"LP","group":"Treated","value":23.5,"ord":4},
{"panel":"AF","tissue":"Spleen","group":"Control","value":12.2,"ord":1},{"panel":"AF","tissue":"Spleen","group":"Control","value":18.1,"ord":2},{"panel":"AF","tissue":"Spleen","group":"Treated","value":18.1,"ord":3},{"panel":"AF","tissue":"Spleen","group":"Treated","value":16.7,"ord":4},
{"panel":"AM","tissue":"IEL","group":"Control","value":8.4,"ord":1},{"panel":"AM","tissue":"IEL","group":"Control","value":40.6,"ord":2},{"panel":"AM","tissue":"IEL","group":"Treated","value":40.6,"ord":3},{"panel":"AM","tissue":"IEL","group":"Treated","value":39.5,"ord":4},
{"panel":"AM","tissue":"LP","group":"Control","value":13.6,"ord":1},{"panel":"AM","tissue":"LP","group":"Control","value":34.8,"ord":2},{"panel":"AM","tissue":"LP","group":"Treated","value":34.8,"ord":3},{"panel":"AM","tissue":"LP","group":"Treated","value":29.9,"ord":4},
{"panel":"BF","tissue":"IEL","group":"Control","value":15.8,"ord":1},{"panel":"BF","tissue":"IEL","group":"Control","value":31.8,"ord":2},{"panel":"BF","tissue":"IEL","group":"Treated","value":31.8,"ord":3},{"panel":"BF","tissue":"IEL","group":"Treated","value":30.2,"ord":4},
{"panel":"BF","tissue":"PP","group":"Control","value":5.0,"ord":1},{"panel":"BF","tissue":"PP","group":"Control","value":22.4,"ord":2},{"panel":"BF","tissue":"PP","group":"Treated","value":22.4,"ord":3},{"panel":"BF","tissue":"PP","group":"Treated","value":20.2,"ord":4},
{"panel":"BM","tissue":"IEL","group":"Control","value":6.9,"ord":1},{"panel":"BM","tissue":"IEL","group":"Control","value":24.7,"ord":2},{"panel":"BM","tissue":"IEL","group":"Treated","value":24.7,"ord":3},{"panel":"BM","tissue":"IEL","group":"Treated","value":23.6,"ord":4},
{"panel":"BM","tissue":"LP","group":"Control","value":19.6,"ord":1},{"panel":"BM","tissue":"LP","group":"Control","value":37.0,"ord":2},{"panel":"BM","tissue":"LP","group":"Treated","value":37.0,"ord":3},{"panel":"BM","tissue":"LP","group":"Treated","value":34.4,"ord":4},
{"panel":"CF","tissue":"Spleen","group":"Control","value":55.6,"ord":1},{"panel":"CF","tissue":"Spleen","group":"Control","value":58.5,"ord":2},{"panel":"CF","tissue":"Spleen","group":"Treated","value":58.5,"ord":3},{"panel":"CF","tissue":"Spleen","group":"Treated","value":49.3,"ord":4},
{"panel":"CM","tissue":"PP","group":"Control","value":29.7,"ord":1},{"panel":"CM","tissue":"PP","group":"Control","value":38.6,"ord":2},{"panel":"CM","tissue":"PP","group":"Treated","value":38.6,"ord":3},{"panel":"CM","tissue":"PP","group":"Treated","value":19.0,"ord":4},
{"panel":"CM","tissue":"Spleen","group":"Control","value":54.1,"ord":1},{"panel":"CM","tissue":"Spleen","group":"Control","value":56.8,"ord":2},{"panel":"CM","tissue":"Spleen","group":"Treated","value":56.8,"ord":3},{"panel":"CM","tissue":"Spleen","group":"Treated","value":43.4,"ord":4},
{"panel":"DF","tissue":"IEL","group":"Control","value":10.8,"ord":1},{"panel":"DF","tissue":"IEL","group":"Control","value":28.0,"ord":2},{"panel":"DF","tissue":"IEL","group":"Treated","value":28.0,"ord":3},{"panel":"DF","tissue":"IEL","group":"Treated","value":24.1,"ord":4},
{"panel":"DF","tissue":"Spleen","group":"Control","value":9.0,"ord":1},{"panel":"DF","tissue":"Spleen","group":"Control","value":16.2,"ord":2},{"panel":"DF","tissue":"Spleen","group":"Treated","value":16.2,"ord":3},{"panel":"DF","tissue":"Spleen","group":"Treated","value":11.0,"ord":4},
{"panel":"DM","tissue":"IEL","group":"Control","value":16.2,"ord":1},{"panel":"DM","tissue":"IEL","group":"Control","value":43.2,"ord":2},{"panel":"DM","tissue":"IEL","group":"Treated","value":43.2,"ord":3},{"panel":"DM","tissue":"IEL","group":"Treated","value":40.2,"ord":4},
{"panel":"EF","tissue":"IEL","group":"Control","value":19.3,"ord":1},{"panel":"EF","tissue":"IEL","group":"Control","value":56.1,"ord":2},{"panel":"EF","tissue":"IEL","group":"Treated","value":56.1,"ord":3},{"panel":"EF","tissue":"IEL","group":"Treated","value":52.3,"ord":4}
],
"stars": [
{"panel":"AF","tissue":"IEL","value":15.1,"label":"*"},{"panel":"AF","tissue":"PP","value":10.3,"label":"**"},{"panel":"AF","tissue":"LP","value":25.4,"label":"*"},{"panel":"AF","tissue":"Spleen","value":18.1,"label":"**"},
{"panel":"AM","tissue":"IEL","value":40.6,"label":"**"},{"panel":"AM","tissue":"LP","value":34.8,"label":"**"},
{"panel":"BF","tissue":"IEL","value":31.8,"label":"*"},{"panel":"BF","tissue":"PP","value":22.4,"label":"*"},
{"panel":"BM","tissue":"IEL","value":24.7,"label":"*"},{"panel":"BM","tissue":"LP","value":37.0,"label":"**"},
{"panel":"CF","tissue":"Spleen","value":58.5,"label":"*"},
{"panel":"CM","tissue":"PP","value":38.6,"label":"**"},{"panel":"CM","tissue":"Spleen","value":56.8,"label":"*"},
{"panel":"DF","tissue":"IEL","value":28.0,"label":"**"},{"panel":"DF","tissue":"Spleen","value":16.2,"label":"*"},
{"panel":"DM","tissue":"IEL","value":43.2,"label":"*"},
{"panel":"EF","tissue":"IEL","value":56.1,"label":"**"}
]
},
"vconcat": [
{"title":{"text":"A.","anchor":"start","frame":"bounds","fontSize":26,"offset":-32},"spacing":58,"hconcat":[
 {"width":241,"height":211,"title":{"text":"Female","subtitle":"NK1.1","fontSize":20,"offset":-24},
  "encoding":{"x":{"field":"tissue","type":"nominal","sort":["IEL","PP","LP","Spleen"],"scale":{"type":"band","paddingInner":0,"paddingOuter":0},"axis":{"title":null,"labelAngle":0}}},
  "layer":[
   {"data":{"name":"bars"},"transform":[{"filter":{"field":"panel","equal":"AF"}}],"mark":{"type":"bar","filled":false,"strokeWidth":2.8},"encoding":{"xOffset":{"field":"group","type":"nominal","scale":{"type":"band","paddingInner":0.375,"paddingOuter":0.4375}},"y":{"field":"value","type":"quantitative","scale":{"domain":[0,25],"range":[211,44],"nice":false,"zero":false},"axis":{"title":"% Freq of Parent","values":[0,5,10,15,20,25],"titleX":-29}},"y2":{"datum":0},"color":{"field":"group","type":"nominal","legend":null}}},
   {"data":{"name":"bars"},"transform":[{"filter":{"field":"panel","equal":"AF"}}],"mark":{"type":"rule","strokeWidth":1.5},"encoding":{"xOffset":{"field":"group","type":"nominal"},"y":{"field":"lo","type":"quantitative"},"y2":{"field":"hi"},"color":{"field":"group","type":"nominal","legend":null}}},
   {"data":{"name":"bars"},"transform":[{"filter":{"field":"panel","equal":"AF"}}],"mark":{"type":"tick","thickness":1.5,"size":10},"encoding":{"xOffset":{"field":"group","type":"nominal"},"y":{"field":"hi","type":"quantitative"},"color":{"field":"group","type":"nominal","legend":null}}},
   {"data":{"name":"bars"},"transform":[{"filter":{"field":"panel","equal":"AF"}}],"mark":{"type":"tick","thickness":1.5,"size":10},"encoding":{"xOffset":{"field":"group","type":"nominal"},"y":{"field":"lo","type":"quantitative"},"color":{"field":"group","type":"nominal","legend":null}}},
   {"data":{"name":"points"},"transform":[{"filter":{"field":"panel","equal":"AF"}}],"mark":{"type":"circle","size":38,"opacity":1},"encoding":{"xOffset":{"field":"group","type":"nominal"},"y":{"field":"value","type":"quantitative"},"color":{"field":"group","type":"nominal","legend":null}}},
   {"data":{"name":"brackets"},"transform":[{"filter":{"field":"panel","equal":"AF"}}],"mark":{"type":"line","color":"black","strokeWidth":2,"strokeJoin":"miter"},"encoding":{"xOffset":{"field":"group","type":"nominal"},"y":{"field":"value","type":"quantitative"},"detail":{"field":"tissue","type":"nominal"},"order":{"field":"ord","type":"quantitative"}}},
   {"data":{"name":"stars"},"transform":[{"filter":{"field":"panel","equal":"AF"}}],"mark":{"type":"text","fontSize":20,"fontWeight":"bold","baseline":"middle","dy":-7,"color":"black"},"encoding":{"y":{"field":"value","type":"quantitative"},"text":{"field":"label","type":"nominal"}}}
  ]},
 {"vconcat":[
  {"width":238,"height":120,"title":{"text":"Male","subtitle":"NK1.1","fontSize":20,"offset":-24},
   "encoding":{"x":{"field":"tissue","type":"nominal","sort":["IEL","PP","LP","Spleen"],"scale":{"type":"band","paddingInner":0,"paddingOuter":0},"axis":null}},
   "layer":[
    {"data":{"name":"bars"},"transform":[{"filter":{"field":"panel","equal":"AM"}}],"mark":{"type":"bar","filled":false,"strokeWidth":2.8,"clip":true},"encoding":{"xOffset":{"field":"group","type":"nominal","scale":{"type":"band","paddingInner":0.375,"paddingOuter":0.4375}},"y":{"field":"value","type":"quantitative","scale":{"domain":[6.5,40],"range":[120,44],"nice":false,"zero":false},"axis":{"title":null,"values":[10,20,30,40],"labelOverlap":false,"labelBound":false,"labelFlush":false,"labelSeparation":0}},"y2":{"datum":0},"color":{"field":"group","type":"nominal","legend":null}}},
    {"data":{"name":"bars"},"transform":[{"filter":{"field":"panel","equal":"AM"}}],"mark":{"type":"rule","strokeWidth":1.5,"clip":true},"encoding":{"xOffset":{"field":"group","type":"nominal"},"y":{"field":"lo","type":"quantitative","axis":{"title":null,"values":[10,20,30,40],"labelOverlap":false}},"y2":{"field":"hi"},"color":{"field":"group","type":"nominal","legend":null}}},
    {"data":{"name":"bars"},"transform":[{"filter":{"field":"panel","equal":"AM"}}],"mark":{"type":"tick","thickness":1.5,"size":10,"clip":true},"encoding":{"xOffset":{"field":"group","type":"nominal"},"y":{"field":"hi","type":"quantitative","axis":{"title":null,"values":[10,20,30,40],"labelOverlap":false}},"color":{"field":"group","type":"nominal","legend":null}}},
    {"data":{"name":"bars"},"transform":[{"filter":{"field":"panel","equal":"AM"}}],"mark":{"type":"tick","thickness":1.5,"size":10,"clip":true},"encoding":{"xOffset":{"field":"group","type":"nominal"},"y":{"field":"lo","type":"quantitative","axis":{"title":null,"values":[10,20,30,40],"labelOverlap":false}},"color":{"field":"group","type":"nominal","legend":null}}},
    {"data":{"name":"points"},"transform":[{"filter":{"field":"panel","equal":"AM"}}],"mark":{"type":"circle","size":38,"opacity":1,"clip":true},"encoding":{"xOffset":{"field":"group","type":"nominal"},"y":{"field":"value","type":"quantitative","axis":{"title":null,"values":[10,20,30,40],"labelOverlap":false}},"color":{"field":"group","type":"nominal","legend":null}}},
    {"data":{"name":"brackets"},"transform":[{"filter":{"field":"panel","equal":"AM"}}],"mark":{"type":"line","color":"black","strokeWidth":2,"strokeJoin":"miter"},"encoding":{"xOffset":{"field":"group","type":"nominal"},"y":{"field":"value","type":"quantitative","axis":{"title":null,"values":[10,20,30,40],"labelOverlap":false}},"detail":{"field":"tissue","type":"nominal"},"order":{"field":"ord","type":"quantitative"}}},
    {"data":{"name":"stars"},"transform":[{"filter":{"field":"panel","equal":"AM"}}],"mark":{"type":"text","fontSize":20,"fontWeight":"bold","baseline":"middle","dy":-7,"color":"black"},"encoding":{"y":{"field":"value","type":"quantitative","axis":{"title":null,"values":[10,20,30,40],"labelOverlap":false}},"text":{"field":"label","type":"nominal"}}}
   ]},
  {"width":238,"height":76,
   "encoding":{"x":{"field":"tissue","type":"nominal","sort":["IEL","PP","LP","Spleen"],"scale":{"type":"band","paddingInner":0,"paddingOuter":0},"axis":{"title":null,"labelAngle":0}}},
   "layer":[
    {"data":{"name":"bars"},"transform":[{"filter":{"field":"panel","equal":"AM"}}],"mark":{"type":"bar","filled":false,"strokeWidth":2.8,"clip":true},"encoding":{"xOffset":{"field":"group","type":"nominal","scale":{"type":"band","paddingInner":0.375,"paddingOuter":0.4375}},"y":{"field":"value","type":"quantitative","scale":{"domain":[0,6],"nice":false,"zero":false},"axis":{"title":"% Freq of CD45+ cells","values":[0,2,4,6],"labelOverlap":false,"titleX":-29,"titleY":-7.5}},"y2":{"datum":0},"color":{"field":"group","type":"nominal","legend":null}}},
    {"data":{"name":"bars"},"transform":[{"filter":{"field":"panel","equal":"AM"}}],"mark":{"type":"rule","strokeWidth":1.5,"clip":true},"encoding":{"xOffset":{"field":"group","type":"nominal"},"y":{"field":"lo","type":"quantitative"},"y2":{"field":"hi"},"color":{"field":"group","type":"nominal","legend":null}}},
    {"data":{"name":"bars"},"transform":[{"filter":{"field":"panel","equal":"AM"}}],"mark":{"type":"tick","thickness":1.5,"size":10,"clip":true},"encoding":{"xOffset":{"field":"group","type":"nominal"},"y":{"field":"hi","type":"quantitative"},"color":{"field":"group","type":"nominal","legend":null}}},
    {"data":{"name":"bars"},"transform":[{"filter":{"field":"panel","equal":"AM"}}],"mark":{"type":"tick","thickness":1.5,"size":10,"clip":true},"encoding":{"xOffset":{"field":"group","type":"nominal"},"y":{"field":"lo","type":"quantitative"},"color":{"field":"group","type":"nominal","legend":null}}},
    {"data":{"name":"points"},"transform":[{"filter":{"field":"panel","equal":"AM"}}],"mark":{"type":"circle","size":38,"opacity":1,"clip":true},"encoding":{"xOffset":{"field":"group","type":"nominal"},"y":{"field":"value","type":"quantitative"},"color":{"field":"group","type":"nominal","legend":null}}}
   ]}
 ],"spacing":15,"bounds":"flush"}
]},
{"title":{"text":"B.","anchor":"start","frame":"bounds","fontSize":26,"offset":-33},"spacing":58,"hconcat":[
 {"width":241,"height":211,"title":{"text":"NKP46","offset":-24},
  "encoding":{"x":{"field":"tissue","type":"nominal","sort":["IEL","PP","LP","Spleen"],"scale":{"type":"band","paddingInner":0,"paddingOuter":0},"axis":{"title":null,"labelAngle":0}}},
  "layer":[
   {"data":{"name":"bars"},"transform":[{"filter":{"field":"panel","equal":"BF"}}],"mark":{"type":"bar","filled":false,"strokeWidth":2.8},"encoding":{"xOffset":{"field":"group","type":"nominal","scale":{"type":"band","paddingInner":0.375,"paddingOuter":0.4375}},"y":{"field":"value","type":"quantitative","scale":{"domain":[0,40],"range":[211,44],"nice":false,"zero":false},"axis":{"title":"% Freq of CD45+ cells","values":[0,10,20,30,40],"titleX":-29}},"y2":{"datum":0},"color":{"field":"group","type":"nominal","legend":null}}},
   {"data":{"name":"bars"},"transform":[{"filter":{"field":"panel","equal":"BF"}}],"mark":{"type":"rule","strokeWidth":1.5},"encoding":{"xOffset":{"field":"group","type":"nominal"},"y":{"field":"lo","type":"quantitative"},"y2":{"field":"hi"},"color":{"field":"group","type":"nominal","legend":null}}},
   {"data":{"name":"bars"},"transform":[{"filter":{"field":"panel","equal":"BF"}}],"mark":{"type":"tick","thickness":1.5,"size":10},"encoding":{"xOffset":{"field":"group","type":"nominal"},"y":{"field":"hi","type":"quantitative"},"color":{"field":"group","type":"nominal","legend":null}}},
   {"data":{"name":"bars"},"transform":[{"filter":{"field":"panel","equal":"BF"}}],"mark":{"type":"tick","thickness":1.5,"size":10},"encoding":{"xOffset":{"field":"group","type":"nominal"},"y":{"field":"lo","type":"quantitative"},"color":{"field":"group","type":"nominal","legend":null}}},
   {"data":{"name":"points"},"transform":[{"filter":{"field":"panel","equal":"BF"}}],"mark":{"type":"circle","size":38,"opacity":1},"encoding":{"xOffset":{"field":"group","type":"nominal"},"y":{"field":"value","type":"quantitative"},"color":{"field":"group","type":"nominal","legend":null}}},
   {"data":{"name":"brackets"},"transform":[{"filter":{"field":"panel","equal":"BF"}}],"mark":{"type":"line","color":"black","strokeWidth":2,"strokeJoin":"miter"},"encoding":{"xOffset":{"field":"group","type":"nominal"},"y":{"field":"value","type":"quantitative"},"detail":{"field":"tissue","type":"nominal"},"order":{"field":"ord","type":"quantitative"}}},
   {"data":{"name":"stars"},"transform":[{"filter":{"field":"panel","equal":"BF"}}],"mark":{"type":"text","fontSize":20,"fontWeight":"bold","baseline":"middle","dy":-7,"color":"black"},"encoding":{"y":{"field":"value","type":"quantitative"},"text":{"field":"label","type":"nominal"}}}
  ]},
 {"width":238,"height":211,"title":{"text":"NKP46","offset":-24},
  "encoding":{"x":{"field":"tissue","type":"nominal","sort":["IEL","PP","LP","Spleen"],"scale":{"type":"band","paddingInner":0,"paddingOuter":0},"axis":{"title":null,"labelAngle":0}}},
  "layer":[
   {"data":{"name":"bars"},"transform":[{"filter":{"field":"panel","equal":"BM"}}],"mark":{"type":"bar","filled":false,"strokeWidth":2.8},"encoding":{"xOffset":{"field":"group","type":"nominal","scale":{"type":"band","paddingInner":0.375,"paddingOuter":0.4375}},"y":{"field":"value","type":"quantitative","scale":{"domain":[0,40],"range":[211,44],"nice":false,"zero":false},"axis":{"title":"% Freq of CD45+ cells","values":[0,10,20,30,40],"titleX":-29}},"y2":{"datum":0},"color":{"field":"group","type":"nominal","legend":null}}},
   {"data":{"name":"bars"},"transform":[{"filter":{"field":"panel","equal":"BM"}}],"mark":{"type":"rule","strokeWidth":1.5},"encoding":{"xOffset":{"field":"group","type":"nominal"},"y":{"field":"lo","type":"quantitative"},"y2":{"field":"hi"},"color":{"field":"group","type":"nominal","legend":null}}},
   {"data":{"name":"bars"},"transform":[{"filter":{"field":"panel","equal":"BM"}}],"mark":{"type":"tick","thickness":1.5,"size":10},"encoding":{"xOffset":{"field":"group","type":"nominal"},"y":{"field":"hi","type":"quantitative"},"color":{"field":"group","type":"nominal","legend":null}}},
   {"data":{"name":"bars"},"transform":[{"filter":{"field":"panel","equal":"BM"}}],"mark":{"type":"tick","thickness":1.5,"size":10},"encoding":{"xOffset":{"field":"group","type":"nominal"},"y":{"field":"lo","type":"quantitative"},"color":{"field":"group","type":"nominal","legend":null}}},
   {"data":{"name":"points"},"transform":[{"filter":{"field":"panel","equal":"BM"}}],"mark":{"type":"circle","size":38,"opacity":1},"encoding":{"xOffset":{"field":"group","type":"nominal"},"y":{"field":"value","type":"quantitative"},"color":{"field":"group","type":"nominal","legend":null}}},
   {"data":{"name":"brackets"},"transform":[{"filter":{"field":"panel","equal":"BM"}}],"mark":{"type":"line","color":"black","strokeWidth":2,"strokeJoin":"miter"},"encoding":{"xOffset":{"field":"group","type":"nominal"},"y":{"field":"value","type":"quantitative"},"detail":{"field":"tissue","type":"nominal"},"order":{"field":"ord","type":"quantitative"}}},
   {"data":{"name":"stars"},"transform":[{"filter":{"field":"panel","equal":"BM"}}],"mark":{"type":"text","fontSize":20,"fontWeight":"bold","baseline":"middle","dy":-7,"color":"black"},"encoding":{"y":{"field":"value","type":"quantitative"},"text":{"field":"label","type":"nominal"}}}
  ]}
]},
{"title":{"text":"C.","anchor":"start","frame":"bounds","fontSize":26,"offset":-32},"spacing":58,"hconcat":[
 {"width":241,"height":215,"title":{"text":"NKP46 NKG2D+","offset":-27},
  "encoding":{"x":{"field":"tissue","type":"nominal","sort":["IEL","PP","LP","Spleen"],"scale":{"type":"band","paddingInner":0,"paddingOuter":0},"axis":{"title":null,"labelAngle":0}}},
  "layer":[
   {"data":{"name":"bars"},"transform":[{"filter":{"field":"panel","equal":"CF"}}],"mark":{"type":"bar","filled":false,"strokeWidth":2.8},"encoding":{"xOffset":{"field":"group","type":"nominal","scale":{"type":"band","paddingInner":0.375,"paddingOuter":0.4375}},"y":{"field":"value","type":"quantitative","scale":{"domain":[0,60],"range":[215,47],"nice":false,"zero":false},"axis":{"title":"% Freq of NKp46+ cells","values":[0,20,40,60],"titleX":-29}},"y2":{"datum":0},"color":{"field":"group","type":"nominal","legend":null}}},
   {"data":{"name":"bars"},"transform":[{"filter":{"field":"panel","equal":"CF"}}],"mark":{"type":"rule","strokeWidth":1.5},"encoding":{"xOffset":{"field":"group","type":"nominal"},"y":{"field":"lo","type":"quantitative"},"y2":{"field":"hi"},"color":{"field":"group","type":"nominal","legend":null}}},
   {"data":{"name":"bars"},"transform":[{"filter":{"field":"panel","equal":"CF"}}],"mark":{"type":"tick","thickness":1.5,"size":10},"encoding":{"xOffset":{"field":"group","type":"nominal"},"y":{"field":"hi","type":"quantitative"},"color":{"field":"group","type":"nominal","legend":null}}},
   {"data":{"name":"bars"},"transform":[{"filter":{"field":"panel","equal":"CF"}}],"mark":{"type":"tick","thickness":1.5,"size":10},"encoding":{"xOffset":{"field":"group","type":"nominal"},"y":{"field":"lo","type":"quantitative"},"color":{"field":"group","type":"nominal","legend":null}}},
   {"data":{"name":"points"},"transform":[{"filter":{"field":"panel","equal":"CF"}}],"mark":{"type":"circle","size":38,"opacity":1},"encoding":{"xOffset":{"field":"group","type":"nominal"},"y":{"field":"value","type":"quantitative"},"color":{"field":"group","type":"nominal","legend":null}}},
   {"data":{"name":"brackets"},"transform":[{"filter":{"field":"panel","equal":"CF"}}],"mark":{"type":"line","color":"black","strokeWidth":2,"strokeJoin":"miter"},"encoding":{"xOffset":{"field":"group","type":"nominal"},"y":{"field":"value","type":"quantitative"},"detail":{"field":"tissue","type":"nominal"},"order":{"field":"ord","type":"quantitative"}}},
   {"data":{"name":"stars"},"transform":[{"filter":{"field":"panel","equal":"CF"}}],"mark":{"type":"text","fontSize":20,"fontWeight":"bold","baseline":"middle","dy":-7,"color":"black"},"encoding":{"y":{"field":"value","type":"quantitative"},"text":{"field":"label","type":"nominal"}}}
  ]},
 {"width":238,"height":215,"title":{"text":"NKP46 NKG2D+","offset":-27},
  "encoding":{"x":{"field":"tissue","type":"nominal","sort":["IEL","PP","LP","Spleen"],"scale":{"type":"band","paddingInner":0,"paddingOuter":0},"axis":{"title":null,"labelAngle":0}}},
  "layer":[
   {"data":{"name":"bars"},"transform":[{"filter":{"field":"panel","equal":"CM"}}],"mark":{"type":"bar","filled":false,"strokeWidth":2.8},"encoding":{"xOffset":{"field":"group","type":"nominal","scale":{"type":"band","paddingInner":0.375,"paddingOuter":0.4375}},"y":{"field":"value","type":"quantitative","scale":{"domain":[0,60],"range":[215,47],"nice":false,"zero":false},"axis":{"title":"% Freq of NKp46+ cells","values":[0,20,40,60],"titleX":-29}},"y2":{"datum":0},"color":{"field":"group","type":"nominal","legend":null}}},
   {"data":{"name":"bars"},"transform":[{"filter":{"field":"panel","equal":"CM"}}],"mark":{"type":"rule","strokeWidth":1.5},"encoding":{"xOffset":{"field":"group","type":"nominal"},"y":{"field":"lo","type":"quantitative"},"y2":{"field":"hi"},"color":{"field":"group","type":"nominal","legend":null}}},
   {"data":{"name":"bars"},"transform":[{"filter":{"field":"panel","equal":"CM"}}],"mark":{"type":"tick","thickness":1.5,"size":10},"encoding":{"xOffset":{"field":"group","type":"nominal"},"y":{"field":"hi","type":"quantitative"},"color":{"field":"group","type":"nominal","legend":null}}},
   {"data":{"name":"bars"},"transform":[{"filter":{"field":"panel","equal":"CM"}}],"mark":{"type":"tick","thickness":1.5,"size":10},"encoding":{"xOffset":{"field":"group","type":"nominal"},"y":{"field":"lo","type":"quantitative"},"color":{"field":"group","type":"nominal","legend":null}}},
   {"data":{"name":"points"},"transform":[{"filter":{"field":"panel","equal":"CM"}}],"mark":{"type":"circle","size":38,"opacity":1},"encoding":{"xOffset":{"field":"group","type":"nominal"},"y":{"field":"value","type":"quantitative"},"color":{"field":"group","type":"nominal","legend":null}}},
   {"data":{"name":"brackets"},"transform":[{"filter":{"field":"panel","equal":"CM"}}],"mark":{"type":"line","color":"black","strokeWidth":2,"strokeJoin":"miter"},"encoding":{"xOffset":{"field":"group","type":"nominal"},"y":{"field":"value","type":"quantitative"},"detail":{"field":"tissue","type":"nominal"},"order":{"field":"ord","type":"quantitative"}}},
   {"data":{"name":"stars"},"transform":[{"filter":{"field":"panel","equal":"CM"}}],"mark":{"type":"text","fontSize":20,"fontWeight":"bold","baseline":"middle","dy":-7,"color":"black"},"encoding":{"y":{"field":"value","type":"quantitative"},"text":{"field":"label","type":"nominal"}}}
  ]}
]},
{"title":{"text":"D.","anchor":"start","frame":"bounds","fontSize":26,"offset":-45},"spacing":58,"hconcat":[
 {"width":241,"height":219,"title":{"text":"TCRb+ Qa1","offset":-31},
  "encoding":{"x":{"field":"tissue","type":"nominal","sort":["IEL","PP","LP","Spleen"],"scale":{"type":"band","paddingInner":0,"paddingOuter":0},"axis":{"title":null,"labelAngle":0}}},
  "layer":[
   {"data":{"name":"bars"},"transform":[{"filter":{"field":"panel","equal":"DF"}}],"mark":{"type":"bar","filled":false,"strokeWidth":2.8},"encoding":{"xOffset":{"field":"group","type":"nominal","scale":{"type":"band","paddingInner":0.375,"paddingOuter":0.4375}},"y":{"field":"value","type":"quantitative","scale":{"domain":[0,50],"range":[219,51],"nice":false,"zero":false},"axis":{"title":"% Freq of TCRβ+ cells","values":[0,10,20,30,40,50],"titleX":-29}},"y2":{"datum":0},"color":{"field":"group","type":"nominal","legend":null}}},
   {"data":{"name":"bars"},"transform":[{"filter":{"field":"panel","equal":"DF"}}],"mark":{"type":"rule","strokeWidth":1.5},"encoding":{"xOffset":{"field":"group","type":"nominal"},"y":{"field":"lo","type":"quantitative"},"y2":{"field":"hi"},"color":{"field":"group","type":"nominal","legend":null}}},
   {"data":{"name":"bars"},"transform":[{"filter":{"field":"panel","equal":"DF"}}],"mark":{"type":"tick","thickness":1.5,"size":10},"encoding":{"xOffset":{"field":"group","type":"nominal"},"y":{"field":"hi","type":"quantitative"},"color":{"field":"group","type":"nominal","legend":null}}},
   {"data":{"name":"bars"},"transform":[{"filter":{"field":"panel","equal":"DF"}}],"mark":{"type":"tick","thickness":1.5,"size":10},"encoding":{"xOffset":{"field":"group","type":"nominal"},"y":{"field":"lo","type":"quantitative"},"color":{"field":"group","type":"nominal","legend":null}}},
   {"data":{"name":"points"},"transform":[{"filter":{"field":"panel","equal":"DF"}}],"mark":{"type":"circle","size":38,"opacity":1},"encoding":{"xOffset":{"field":"group","type":"nominal"},"y":{"field":"value","type":"quantitative"},"color":{"field":"group","type":"nominal","legend":null}}},
   {"data":{"name":"brackets"},"transform":[{"filter":{"field":"panel","equal":"DF"}}],"mark":{"type":"line","color":"black","strokeWidth":2,"strokeJoin":"miter"},"encoding":{"xOffset":{"field":"group","type":"nominal"},"y":{"field":"value","type":"quantitative"},"detail":{"field":"tissue","type":"nominal"},"order":{"field":"ord","type":"quantitative"}}},
   {"data":{"name":"stars"},"transform":[{"filter":{"field":"panel","equal":"DF"}}],"mark":{"type":"text","fontSize":20,"fontWeight":"bold","baseline":"middle","dy":-7,"color":"black"},"encoding":{"y":{"field":"value","type":"quantitative"},"text":{"field":"label","type":"nominal"}}}
  ]},
 {"width":238,"height":219,"title":{"text":"TCRb+ Qa1","offset":-31},
  "encoding":{"x":{"field":"tissue","type":"nominal","sort":["IEL","PP","LP","Spleen"],"scale":{"type":"band","paddingInner":0,"paddingOuter":0},"axis":{"title":null,"labelAngle":0}}},
  "layer":[
   {"data":{"name":"bars"},"transform":[{"filter":{"field":"panel","equal":"DM"}}],"mark":{"type":"bar","filled":false,"strokeWidth":2.8},"encoding":{"xOffset":{"field":"group","type":"nominal","scale":{"type":"band","paddingInner":0.375,"paddingOuter":0.4375}},"y":{"field":"value","type":"quantitative","scale":{"domain":[0,50],"range":[219,51],"nice":false,"zero":false},"axis":{"title":"% Freq of TCRβ+ cells","values":[0,10,20,30,40,50],"titleX":-29}},"y2":{"datum":0},"color":{"field":"group","type":"nominal","legend":null}}},
   {"data":{"name":"bars"},"transform":[{"filter":{"field":"panel","equal":"DM"}}],"mark":{"type":"rule","strokeWidth":1.5},"encoding":{"xOffset":{"field":"group","type":"nominal"},"y":{"field":"lo","type":"quantitative"},"y2":{"field":"hi"},"color":{"field":"group","type":"nominal","legend":null}}},
   {"data":{"name":"bars"},"transform":[{"filter":{"field":"panel","equal":"DM"}}],"mark":{"type":"tick","thickness":1.5,"size":10},"encoding":{"xOffset":{"field":"group","type":"nominal"},"y":{"field":"hi","type":"quantitative"},"color":{"field":"group","type":"nominal","legend":null}}},
   {"data":{"name":"bars"},"transform":[{"filter":{"field":"panel","equal":"DM"}}],"mark":{"type":"tick","thickness":1.5,"size":10},"encoding":{"xOffset":{"field":"group","type":"nominal"},"y":{"field":"lo","type":"quantitative"},"color":{"field":"group","type":"nominal","legend":null}}},
   {"data":{"name":"points"},"transform":[{"filter":{"field":"panel","equal":"DM"}}],"mark":{"type":"circle","size":38,"opacity":1},"encoding":{"xOffset":{"field":"group","type":"nominal"},"y":{"field":"value","type":"quantitative"},"color":{"field":"group","type":"nominal","legend":null}}},
   {"data":{"name":"brackets"},"transform":[{"filter":{"field":"panel","equal":"DM"}}],"mark":{"type":"line","color":"black","strokeWidth":2,"strokeJoin":"miter"},"encoding":{"xOffset":{"field":"group","type":"nominal"},"y":{"field":"value","type":"quantitative"},"detail":{"field":"tissue","type":"nominal"},"order":{"field":"ord","type":"quantitative"}}},
   {"data":{"name":"stars"},"transform":[{"filter":{"field":"panel","equal":"DM"}}],"mark":{"type":"text","fontSize":20,"fontWeight":"bold","baseline":"middle","dy":-7,"color":"black"},"encoding":{"y":{"field":"value","type":"quantitative"},"text":{"field":"label","type":"nominal"}}}
  ]}
]},
{"title":{"text":"E.","anchor":"start","frame":"bounds","fontSize":26,"offset":-31},"spacing":58,"hconcat":[
 {"width":241,"height":226,"title":{"text":"CD8+ Qa1","offset":-37},
  "encoding":{"x":{"field":"tissue","type":"nominal","sort":["IEL","PP","LP","Spleen"],"scale":{"type":"band","paddingInner":0,"paddingOuter":0},"axis":{"title":null,"labelAngle":0}}},
  "layer":[
   {"data":{"name":"bars"},"transform":[{"filter":{"field":"panel","equal":"EF"}}],"mark":{"type":"bar","filled":false,"strokeWidth":2.8},"encoding":{"xOffset":{"field":"group","type":"nominal","scale":{"type":"band","paddingInner":0.375,"paddingOuter":0.4375}},"y":{"field":"value","type":"quantitative","scale":{"domain":[0,60],"range":[226,57],"nice":false,"zero":false},"axis":{"title":"% Freq of CD8+ cells","values":[0,20,40,60],"titleX":-29}},"y2":{"datum":0},"color":{"field":"group","type":"nominal","legend":null}}},
   {"data":{"name":"bars"},"transform":[{"filter":{"field":"panel","equal":"EF"}}],"mark":{"type":"rule","strokeWidth":1.5},"encoding":{"xOffset":{"field":"group","type":"nominal"},"y":{"field":"lo","type":"quantitative"},"y2":{"field":"hi"},"color":{"field":"group","type":"nominal","legend":null}}},
   {"data":{"name":"bars"},"transform":[{"filter":{"field":"panel","equal":"EF"}}],"mark":{"type":"tick","thickness":1.5,"size":10},"encoding":{"xOffset":{"field":"group","type":"nominal"},"y":{"field":"hi","type":"quantitative"},"color":{"field":"group","type":"nominal","legend":null}}},
   {"data":{"name":"bars"},"transform":[{"filter":{"field":"panel","equal":"EF"}}],"mark":{"type":"tick","thickness":1.5,"size":10},"encoding":{"xOffset":{"field":"group","type":"nominal"},"y":{"field":"lo","type":"quantitative"},"color":{"field":"group","type":"nominal","legend":null}}},
   {"data":{"name":"points"},"transform":[{"filter":{"field":"panel","equal":"EF"}}],"mark":{"type":"circle","size":38,"opacity":1},"encoding":{"xOffset":{"field":"group","type":"nominal"},"y":{"field":"value","type":"quantitative"},"color":{"field":"group","type":"nominal","legend":null}}},
   {"data":{"name":"brackets"},"transform":[{"filter":{"field":"panel","equal":"EF"}}],"mark":{"type":"line","color":"black","strokeWidth":2,"strokeJoin":"miter"},"encoding":{"xOffset":{"field":"group","type":"nominal"},"y":{"field":"value","type":"quantitative"},"detail":{"field":"tissue","type":"nominal"},"order":{"field":"ord","type":"quantitative"}}},
   {"data":{"name":"stars"},"transform":[{"filter":{"field":"panel","equal":"EF"}}],"mark":{"type":"text","fontSize":20,"fontWeight":"bold","baseline":"middle","dy":-7,"color":"black"},"encoding":{"y":{"field":"value","type":"quantitative"},"text":{"field":"label","type":"nominal"}}}
  ]},
 {"width":238,"height":226,"title":{"text":"CD8+ Qa1","offset":-37},
  "encoding":{"x":{"field":"tissue","type":"nominal","sort":["IEL","PP","LP","Spleen"],"scale":{"type":"band","paddingInner":0,"paddingOuter":0},"axis":{"title":null,"labelAngle":0}}},
  "layer":[
   {"data":{"name":"bars"},"transform":[{"filter":{"field":"panel","equal":"EM"}}],"mark":{"type":"bar","filled":false,"strokeWidth":2.8},"encoding":{"xOffset":{"field":"group","type":"nominal","scale":{"type":"band","paddingInner":0.375,"paddingOuter":0.4375}},"y":{"field":"value","type":"quantitative","scale":{"domain":[0,60],"range":[226,57],"nice":false,"zero":false},"axis":{"title":"% Freq of CD8+ cells","values":[0,20,40,60],"titleX":-29}},"y2":{"datum":0},"color":{"field":"group","type":"nominal","legend":null}}},
   {"data":{"name":"bars"},"transform":[{"filter":{"field":"panel","equal":"EM"}}],"mark":{"type":"rule","strokeWidth":1.5},"encoding":{"xOffset":{"field":"group","type":"nominal"},"y":{"field":"lo","type":"quantitative"},"y2":{"field":"hi"},"color":{"field":"group","type":"nominal","legend":null}}},
   {"data":{"name":"bars"},"transform":[{"filter":{"field":"panel","equal":"EM"}}],"mark":{"type":"tick","thickness":1.5,"size":10},"encoding":{"xOffset":{"field":"group","type":"nominal"},"y":{"field":"hi","type":"quantitative"},"color":{"field":"group","type":"nominal","legend":null}}},
   {"data":{"name":"bars"},"transform":[{"filter":{"field":"panel","equal":"EM"}}],"mark":{"type":"tick","thickness":1.5,"size":10},"encoding":{"xOffset":{"field":"group","type":"nominal"},"y":{"field":"lo","type":"quantitative"},"color":{"field":"group","type":"nominal","legend":null}}},
   {"data":{"name":"points"},"transform":[{"filter":{"field":"panel","equal":"EM"}}],"mark":{"type":"circle","size":38,"opacity":1},"encoding":{"xOffset":{"field":"group","type":"nominal"},"y":{"field":"value","type":"quantitative"},"color":{"field":"group","type":"nominal","legend":null}}}
  ]}
]}
],
"config": {
 "view": {"stroke": null},
 "font": "Liberation Sans",
 "range": {"category": ["#000000", "#ff0000"]},
 "axis": {"grid": false, "domainColor": "#000000", "domainWidth": 2, "tickColor": "#000000", "tickWidth": 2, "tickSize": 5, "labelFont": "Liberation Sans", "labelFontSize": 12, "labelFontWeight": "bold", "labelColor": "#000000", "titleFont": "Liberation Sans", "titleFontSize": 14, "titleFontWeight": "bold", "titleColor": "#000000"},
 "axisX": {"labelPadding": 2, "tickBand": "center"},
 "axisY": {"labelPadding": 3, "labelOverlap": false},
 "title": {"font": "Liberation Sans", "fontSize": 14, "fontWeight": "bold", "color": "#000000", "frame": "group", "subtitleFont": "Liberation Sans", "subtitleFontSize": 14, "subtitleFontWeight": "bold", "subtitleColor": "#000000", "subtitlePadding": 3}
}
}
